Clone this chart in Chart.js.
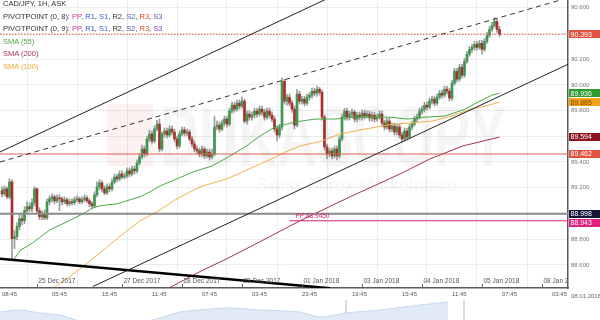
<!DOCTYPE html>
<html>
<head>
<meta charset="utf-8">
<script src="https://cdn.jsdelivr.net/npm/chart.js@4.4.1/dist/chart.umd.min.js"></script>
<style>
  html, body { margin: 0; padding: 0; background: #fff; }
  #wrap { position: relative; width: 600px; height: 320px; overflow: hidden;
          font-family: "Liberation Sans", Arial, sans-serif; }
  #c { position: absolute; left: 0; top: 0; }
  #nav { position: absolute; left: 0; top: 300px; }
  #legend { position: absolute; left: 3px; top: -2px; font-size: 7.5px; line-height: 12.5px; color: #333; white-space: nowrap; }
  .pp { color: #c8389a; } .r1 { color: #3552c8; } .s1 { color: #3a64c8; }
  .r2 { color: #333; } .s2 { color: #5456b0; } .r3 { color: #dc4a2e; } .s3 { color: #7446b4; }
  #today { position: absolute; left: 571px; top: 293px; font-size: 6px; color: #666; }
</style>
</head>
<body>
<div id="wrap">
  <canvas id="nav" width="600" height="40"></canvas>
  <canvas id="c" width="600" height="300"></canvas>
  <div id="legend">
    <div>CAD/JPY, 1H, ASK</div>
    <div>PIVOTPOINT (0, 8): <span class="pp">PP</span>, <span class="r1">R1</span>, <span class="s1">S1</span>, <span class="r2">R2</span>, <span class="s2">S2</span>, <span class="r3">R3</span>, <span class="s3">S3</span></div>
    <div>PIVOTPOINT (0, 9): <span class="pp">PP</span>, <span class="r1">R1</span>, <span class="s1">S1</span>, <span class="r2">R2</span>, <span class="s2">S2</span>, <span class="r3">R3</span>, <span class="s3">S3</span></div>
    <div style="color:#4fa84a">SMA (55)</div>
    <div style="color:#a3344c">SMA (200)</div>
    <div style="color:#f2a93b">SMA (100)</div>
  </div>
  <div id="today">08.01.2018</div>
</div>
<script>
/* CAD/JPY 1H — candles, SMAs, channel lines, pivot levels */
const FONT = '"Liberation Sans", Arial, sans-serif';

const firstOpen = 89.176;
const closes = [
  89.152, 89.191, 89.129, 89.245, 88.804, 88.819, 88.897, 88.959, 88.943, 89.021,
  89.052, 89.036, 89.083, 89.191, 89.021, 88.974, 88.997, 88.966, 89.090, 89.114,
  89.129, 89.098, 89.121, 89.114, 89.090, 89.106, 89.075, 89.090, 89.083, 89.106,
  89.114, 89.090, 89.106, 89.121, 89.098, 89.075, 89.059, 89.145, 89.207, 89.238,
  89.191, 89.160, 89.207, 89.191, 89.245, 89.284, 89.269, 89.307, 89.284, 89.292,
  89.331, 89.307, 89.346, 89.331, 89.393, 89.439, 89.501, 89.462, 89.579, 89.618,
  89.563, 89.656, 89.695, 89.501, 89.618, 89.641, 89.610, 89.656, 89.633, 89.579,
  89.525, 89.618, 89.649, 89.625, 89.633, 89.579, 89.540, 89.501, 89.486, 89.462,
  89.501, 89.447, 89.478, 89.439, 89.462, 89.672, 89.687, 89.656, 89.703, 89.734,
  89.695, 89.796, 89.842, 89.811, 89.858, 89.835, 89.873, 89.718, 89.773, 89.749,
  89.765, 89.796, 89.773, 89.811, 89.788, 89.749, 89.796, 89.765, 89.734, 89.656,
  89.610, 89.672, 90.028, 89.873, 89.904, 89.858, 89.811, 89.687, 89.928, 89.873,
  89.889, 89.858, 89.904, 89.920, 89.951, 89.935, 89.966, 89.943, 89.749, 89.517,
  89.462, 89.486, 89.447, 89.501, 89.447, 89.579, 89.749, 89.796, 89.749, 89.773,
  89.788, 89.734, 89.765, 89.749, 89.780, 89.757, 89.773, 89.742, 89.765, 89.734,
  89.749, 89.773, 89.703, 89.672, 89.718, 89.656, 89.680, 89.633, 89.672, 89.610,
  89.579, 89.641, 89.594, 89.672, 89.695, 89.734, 89.749, 89.796, 89.811, 89.842,
  89.827, 89.873, 89.889, 89.858, 89.904, 89.935, 89.920, 89.966, 89.951, 89.897,
  90.013, 90.106, 90.044, 90.137, 90.075, 90.183, 90.238, 90.276, 90.292, 90.315,
  90.292, 90.323, 90.276, 90.338, 90.385, 90.431, 90.462, 90.493, 90.431, 90.393,
];
const highs = [
  89.207, 89.214, 89.207, 89.269, 89.261, 88.866, 88.928, 88.990, 89.005, 89.052,
  89.090, 89.083, 89.114, 89.207, 89.199, 89.044, 89.021, 89.028, 89.114, 89.137,
  89.152, 89.145, 89.145, 89.145, 89.129, 89.129, 89.121, 89.114, 89.114, 89.129,
  89.137, 89.129, 89.129, 89.145, 89.137, 89.114, 89.090, 89.168, 89.245, 89.261,
  89.253, 89.214, 89.230, 89.230, 89.269, 89.307, 89.307, 89.331, 89.331, 89.315,
  89.354, 89.354, 89.369, 89.369, 89.416, 89.462, 89.532, 89.525, 89.602, 89.649,
  89.641, 89.680, 89.726, 89.734, 89.633, 89.664, 89.664, 89.680, 89.680, 89.656,
  89.602, 89.641, 89.672, 89.672, 89.656, 89.649, 89.602, 89.563, 89.525, 89.509,
  89.525, 89.517, 89.501, 89.501, 89.501, 89.757, 89.718, 89.711, 89.726, 89.757,
  89.757, 89.819, 89.866, 89.866, 89.881, 89.881, 89.904, 89.889, 89.796, 89.796,
  89.788, 89.819, 89.819, 89.835, 89.835, 89.811, 89.819, 89.819, 89.788, 89.757,
  89.680, 89.695, 90.052, 90.044, 89.928, 89.928, 89.881, 89.835, 89.966, 89.951,
  89.912, 89.912, 89.928, 89.943, 89.974, 89.974, 89.990, 89.982, 89.959, 89.765,
  89.540, 89.509, 89.509, 89.525, 89.525, 89.602, 89.773, 89.819, 89.819, 89.796,
  89.811, 89.804, 89.788, 89.788, 89.804, 89.804, 89.796, 89.796, 89.788, 89.788,
  89.773, 89.796, 89.796, 89.726, 89.742, 89.742, 89.703, 89.703, 89.695, 89.695,
  89.633, 89.664, 89.664, 89.695, 89.718, 89.757, 89.773, 89.819, 89.835, 89.866,
  89.866, 89.897, 89.912, 89.912, 89.928, 89.959, 89.959, 89.990, 89.990, 89.974,
  90.036, 90.129, 90.129, 90.160, 90.160, 90.207, 90.261, 90.300, 90.315, 90.338,
  90.338, 90.346, 90.346, 90.362, 90.408, 90.455, 90.486, 90.524, 90.509, 90.455,
];
const lows = [
  89.129, 89.137, 89.114, 89.114, 88.633, 88.726, 88.796, 88.873, 88.912, 88.920,
  88.997, 89.013, 89.013, 89.059, 88.997, 88.951, 88.951, 88.951, 88.951, 89.067,
  89.090, 89.075, 89.083, 89.021, 89.067, 89.075, 89.059, 89.059, 89.067, 89.067,
  89.090, 89.075, 89.075, 89.090, 89.083, 89.052, 89.036, 89.044, 89.129, 89.183,
  89.168, 89.145, 89.145, 89.168, 89.176, 89.230, 89.245, 89.253, 89.269, 89.269,
  89.276, 89.284, 89.292, 89.307, 89.315, 89.377, 89.424, 89.439, 89.447, 89.556,
  89.540, 89.548, 89.641, 89.478, 89.486, 89.594, 89.587, 89.594, 89.610, 89.556,
  89.501, 89.509, 89.602, 89.602, 89.602, 89.563, 89.517, 89.478, 89.462, 89.439,
  89.439, 89.424, 89.431, 89.416, 89.424, 89.447, 89.649, 89.633, 89.641, 89.680,
  89.672, 89.680, 89.780, 89.788, 89.796, 89.811, 89.819, 89.703, 89.695, 89.726,
  89.726, 89.742, 89.749, 89.757, 89.765, 89.726, 89.734, 89.742, 89.711, 89.633,
  89.563, 89.587, 89.649, 89.850, 89.842, 89.835, 89.788, 89.656, 89.672, 89.850,
  89.850, 89.835, 89.842, 89.881, 89.897, 89.912, 89.912, 89.920, 89.726, 89.493,
  89.424, 89.439, 89.424, 89.431, 89.416, 89.431, 89.563, 89.726, 89.726, 89.726,
  89.749, 89.711, 89.711, 89.726, 89.726, 89.734, 89.742, 89.718, 89.718, 89.711,
  89.718, 89.734, 89.680, 89.649, 89.656, 89.633, 89.633, 89.610, 89.610, 89.587,
  89.556, 89.563, 89.571, 89.579, 89.649, 89.680, 89.711, 89.734, 89.773, 89.788,
  89.804, 89.811, 89.850, 89.835, 89.842, 89.889, 89.897, 89.904, 89.928, 89.873,
  89.881, 89.997, 90.021, 90.028, 90.052, 90.059, 90.168, 90.222, 90.253, 90.269,
  90.269, 90.276, 90.238, 90.261, 90.323, 90.369, 90.416, 90.447, 90.408, 90.377,
];

// moving averages: [candle index, price]
const sma55 = [
  [4.4, 88.633], [7.2, 88.711], [12.4, 88.773], [19.2, 88.873], [26, 88.935], [32.4, 88.997],
  [36.4, 89.044], [39.2, 89.059], [46, 89.075], [51.2, 89.106], [55.2, 89.129], [59.2, 89.168],
  [63.2, 89.214], [70, 89.269], [76.4, 89.323], [84, 89.369], [89.2, 89.424], [97.2, 89.517],
  [103.2, 89.602], [109.2, 89.672], [117.2, 89.711], [125.2, 89.734], [133.2, 89.734],
  [141.2, 89.749], [154.4, 89.749], [162.4, 89.734], [169.2, 89.749], [177.2, 89.757],
  [185.2, 89.811], [190.4, 89.866], [196, 89.920], [199, 89.936],
];
const sma100 = [
  [21.2, 88.432], [27.2, 88.509], [36.4, 88.648], [46, 88.804], [55.2, 88.943], [62, 89.013],
  [70, 89.114], [79.2, 89.207], [90, 89.269], [97.2, 89.331], [106, 89.408], [114.4, 89.486],
  [119.2, 89.525], [128, 89.563], [135.2, 89.618], [145.2, 89.656], [156.4, 89.695],
  [163.2, 89.703], [172, 89.718], [180, 89.757], [186.4, 89.804], [193.2, 89.835], [199, 89.865],
];
const sma200 = [
  [67.2, 88.424], [79.2, 88.548], [90, 88.648], [103.2, 88.780], [119.2, 88.943],
  [139.2, 89.129], [159.2, 89.307], [171.2, 89.424], [184.4, 89.525], [199, 89.594],
];

// drawn trend lines
const channelTop = [[-0.8, 89.478], [129.6, 90.666]];
const channelMid = [[-0.8, 89.400], [226.4, 90.677]];
const channelBottom = [[36.4, 88.432], [226.4, 90.160]];
const downTrend = [[-0.8, 88.648], [131.2, 88.418]];

// horizontal levels
const levelR = 90.393;
const levelS = 89.462;
const levelPivot = 88.998;
const levelPP = 88.943;
const ppStart = 115;

const priceTags = [
  { v: 90.393, bg: "#e0533f", fg: "#fff" },
  { v: 89.936, bg: "#2d9a2d", fg: "#fff" },
  { v: 89.885, bg: "#f3a21c", fg: "#7a4a00" },
  { v: 89.594, bg: "#8c1322", fg: "#fff" },
  { v: 89.462, bg: "#e0533f", fg: "#fff" },
  { v: 88.998, bg: "#15173a", fg: "#fff" },
  { v: 88.943, bg: "#e0207f", fg: "#fff" },
];

const yTicks = [88.6, 88.8, 89.0, 89.2, 89.4, 89.6, 89.8, 90.0, 90.2, 90.4, 90.6];
const timeLabels = ["08:45", "05:45", "15:45", "11:45", "07:45", "03:45",
                    "23:45", "19:45", "15:45", "11:45", "07:45", "03:45"];
const dateTicks = [14, 48, 72, 96, 120, 144, 168, 192, 216];
const dateLabels = ["25 Dec 2017", "27 Dec 2017", "28 Dec 2017", "29 Dec 2017", "01 Jan 2018",
                    "03 Jan 2018", "04 Jan 2018", "05 Jan 2018", "08 Jan 2018"];

// navigator strip under the axis (overview of the longer history)
const navX = [0, 20, 40, 60, 73, 90, 130, 160, 180, 200, 230, 260, 300, 320, 346, 380, 420, 448];
const navLevel = [28, 30, 27, 25, 21, 15, 15, 22, 28, 30, 32, 30, 28, 23, 27, 30, 35, 38];
const navHandles = [346, 464];

const X_MIN = -0.8, X_MAX = 226.4;

const opens = closes.map((c, i) => (i === 0 ? firstOpen : closes[i - 1]));
const UP = "#3e9650", DOWN = "#a8302c";

const pts = (arr) => arr.map(([x, y]) => ({ x, y }));
const hline = (v, x0 = X_MIN) => [{ x: x0, y: v }, { x: X_MAX, y: v }];
const lineDs = (data, color, width, extra = {}) => ({
  type: "line", data, borderColor: color, borderWidth: width, pointRadius: 0,
  tension: 0, fill: false, order: 0, ...extra,
});
const noPad = (s) => { s.paddingTop = 0; s.paddingBottom = 0; s.paddingLeft = 0; s.paddingRight = 0; };

const overlay = {
  id: "overlay",
  beforeDatasetsDraw(chart) {
    // faint broker watermark
    const { ctx, chartArea: a } = chart;
    ctx.save();
    ctx.fillStyle = "rgba(215, 60, 60, 0.065)";
    ctx.fillRect(a.left + 107, a.top + 104, 46, 62);
    ctx.fillStyle = "rgba(0, 0, 0, 0.04)";
    ctx.textBaseline = "alphabetic";
    ctx.textAlign = "left";
    ctx.translate(a.left + 160, a.top + 166);
    ctx.scale(0.63, 1);
    ctx.font = `bold 86px ${FONT}`;
    ctx.fillText("DUKASCOPY", 0, 0);
    ctx.setTransform(1, 0, 0, 1, 0, 0);
    ctx.font = `18px ${FONT}`;
    ctx.fillText("Swiss Forex Marketplace", a.left + 256, a.top + 191);
    ctx.restore();
  },
  afterDatasetsDraw(chart) {
    const { ctx, chartArea: a, scales: { x, y } } = chart;
    ctx.save();
    ctx.beginPath();
    ctx.rect(a.left, a.top, a.right - a.left, a.bottom - a.top);
    ctx.clip();
    ctx.font = `6.5px ${FONT}`;
    ctx.fillStyle = "#555";
    ctx.textBaseline = "middle";
    ctx.textAlign = "left";
    ctx.strokeStyle = "#666";
    ctx.lineWidth = 1;
    dateTicks.forEach((t, k) => {
      const px = Math.round(x.getPixelForValue(t)) + 0.5;
      ctx.fillText(dateLabels[k], px + 1, a.bottom - 6.5);
      ctx.beginPath();
      ctx.moveTo(px, a.bottom);
      ctx.lineTo(px, a.bottom - 4);
      ctx.stroke();
    });
    ctx.fillStyle = "#d6247a";
    ctx.fillText("PP:88.9450", x.getPixelForValue(ppStart) + 6, y.getPixelForValue(levelPP) - 5);
    ctx.restore();
  },
  afterDraw(chart) {
    const { ctx, chartArea: a, scales: { y } } = chart;
    ctx.save();
    ctx.font = `7px ${FONT}`;
    ctx.textBaseline = "middle";
    ctx.textAlign = "left";
    let prev = -Infinity;
    priceTags
      .map((t) => ({ ...t, py: y.getPixelForValue(t.v) }))
      .sort((p, q) => p.py - q.py)
      .forEach((t) => {
        const cy = Math.max(t.py, prev + 9);
        prev = cy;
        ctx.fillStyle = t.bg;
        ctx.fillRect(a.right + 1, Math.round(cy - 4), 32, 8);
        ctx.fillStyle = t.fg;
        ctx.fillText(t.v.toFixed(3), a.right + 2.5, cy + 0.5);
      });
    ctx.restore();
  },
};

new Chart(document.getElementById("c"), {
  type: "bar",
  data: {
    datasets: [
      lineDs(pts(channelTop), "#222", 1),
      lineDs(pts(channelMid), "#333", 1, { borderDash: [5, 4] }),
      lineDs(pts(channelBottom), "#222", 1),
      lineDs(pts(downTrend), "#000", 2.5),
      lineDs(hline(levelR), "#e0533f", 1, { borderDash: [1.5, 1.5] }),
      lineDs(hline(levelS), "#d9614f", 1),
      lineDs(hline(levelPivot), "#8a8a8a", 2),
      lineDs(hline(levelPP, ppStart), "#d6247a", 1),
      lineDs(pts(sma55), "#4fa84a", 1),
      lineDs(pts(sma100), "#f2b04a", 1),
      lineDs(pts(sma200), "#a3344c", 1),
      {
        type: "bar",
        data: closes.map((c, i) => ({ x: i, y: [opens[i], c] })),
        backgroundColor: closes.map((c, i) => (c >= opens[i] ? UP : DOWN)),
        barThickness: 2,
        minBarLength: 1,
        grouped: false,
        order: 1,
      },
      {
        type: "bar",
        data: closes.map((c, i) => ({
          x: i,
          y: [Math.min(lows[i], opens[i], c), Math.max(highs[i], opens[i], c)],
        })),
        backgroundColor: "#9a9a9a",
        barThickness: 1,
        grouped: false,
        order: 2,
      },
    ],
  },
  options: {
    responsive: false,
    animation: false,
    layout: { padding: 0 },
    plugins: { legend: { display: false }, tooltip: { enabled: false } },
    scales: {
      x: {
        type: "linear",
        min: X_MIN,
        max: X_MAX,
        offset: false,
        afterBuildTicks: (s) => { s.ticks = timeLabels.map((_, k) => ({ value: k * 20 })); },
        afterFit: (s) => { s.height = 12; noPad(s); },
        ticks: {
          autoSkip: false, maxRotation: 0, align: "start", padding: 3,
          color: "#555", font: { size: 6, family: FONT },
          callback: (v, idx) => timeLabels[idx],
        },
        grid: { color: "#ececec", drawTicks: false },
        border: { color: "#5a5a5a", width: 1.5 },
      },
      y: {
        position: "right",
        min: 88.42,
        max: 90.66,
        afterBuildTicks: (s) => { s.ticks = yTicks.map((v) => ({ value: v })); },
        afterFit: (s) => { s.width = 32; noPad(s); },
        ticks: {
          padding: 3, color: "#777", font: { size: 6, family: FONT },
          callback: (v) => Number(v).toFixed(3),
        },
        grid: { color: "#ececec", drawTicks: false },
        border: { color: "#5a5a5a", width: 1.5 },
      },
    },
  },
  plugins: [overlay],
});

// navigator
new Chart(document.getElementById("nav"), {
  type: "line",
  data: {
    datasets: [
      {
        data: navX.map((x, i) => ({ x, y: navLevel[i] })),
        borderColor: "#c6d8f0", borderWidth: 1, backgroundColor: "#e1ebf8",
        fill: "start", pointRadius: 0, tension: 0.3,
      },
      ...navHandles.map((h) => ({
        data: [{ x: h, y: 0 }, { x: h, y: 40 }],
        borderColor: "#b5b5b5", borderWidth: 1, pointRadius: 0,
      })),
    ],
  },
  options: {
    responsive: false,
    animation: false,
    layout: { padding: 0 },
    plugins: { legend: { display: false }, tooltip: { enabled: false } },
    scales: {
      x: { type: "linear", min: 0, max: 600, display: false },
      y: { min: 0, max: 40, display: false },
    },
  },
});
</script>
</body>
</html>
